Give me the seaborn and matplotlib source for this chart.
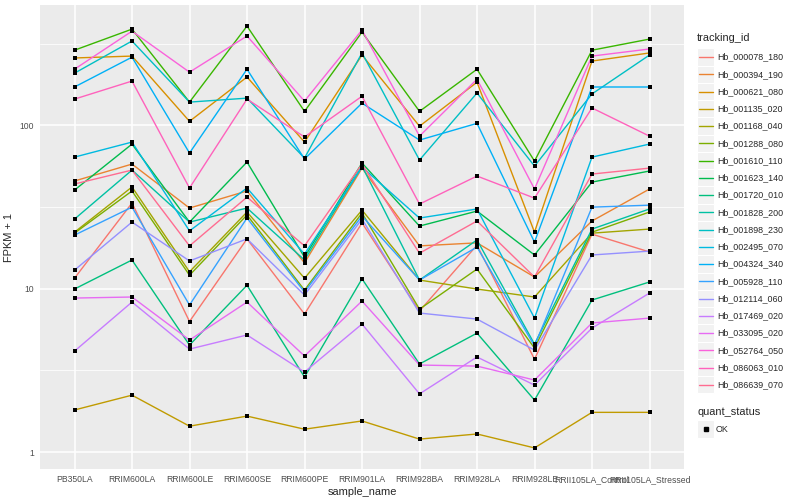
import numpy as np
import pandas as pd
import matplotlib.pyplot as plt
import seaborn as sns
from matplotlib.patches import Rectangle
from matplotlib.lines import Line2D
from matplotlib.ticker import FixedLocator, NullFormatter

samples = ['PB350LA', 'RRIM600LA', 'RRIM600LE', 'RRIM600SE', 'RRIM600PE', 'RRIM901LA',
           'RRIM928BA', 'RRIM928LA', 'RRIM928LE', 'RRII105LA_Control', 'RRII105LA_Stressed']

genes = ['Hb_000078_180', 'Hb_000394_190', 'Hb_000621_080', 'Hb_001135_020', 'Hb_001168_040',
         'Hb_001288_080', 'Hb_001610_110', 'Hb_001623_140', 'Hb_001720_010', 'Hb_001828_200',
         'Hb_001898_230', 'Hb_002495_070', 'Hb_004324_340', 'Hb_005928_110', 'Hb_012114_060',
         'Hb_017469_020', 'Hb_033095_020', 'Hb_052764_050', 'Hb_086063_010', 'Hb_086639_070']

# FPKM + 1, one value per sample (same order as samples)
hb_000078_180 = [11.6, 33.5, 6.3, 20.2, 7.0, 25.3, 7.3, 18.5, 3.7, 21.6, 16.8]
hb_000394_190 = [45.7, 58.0, 31.2, 39.7, 14.4, 54.8, 18.3, 19.1, 11.8, 26.0, 40.8]
hb_000621_080 = [259, 266, 106, 198, 79.1, 270, 99, 184, 22.2, 248, 278]
hb_001135_020 = [1.81, 2.23, 1.44, 1.66, 1.38, 1.55, 1.20, 1.29, 1.06, 1.75, 1.75]
hb_001168_040 = [22.2, 42.0, 12.7, 29.5, 11.6, 30.3, 11.3, 9.96, 8.9, 21.9, 23.2]
hb_001288_080 = [21.9, 39.7, 12.1, 28.3, 9.8, 29.1, 7.5, 13.2, 4.33, 22.2, 29.5]
hb_001610_110 = [289, 389, 139, 406, 122, 373, 122, 221, 60.5, 289, 338]
hb_001623_140 = [40.2, 76.9, 25.6, 59.7, 15.6, 58.9, 24.2, 29.9, 16.1, 45.0, 52.6]
hb_001720_010 = [9.96, 15.0, 4.52, 10.5, 2.88, 11.5, 3.46, 5.35, 2.08, 8.53, 11.0]
hb_001828_200 = [26.7, 53.3, 25.6, 31.2, 15.0, 56.4, 11.3, 19.9, 4.58, 23.2, 30.8]
hb_001898_230 = [209, 329, 139, 147, 63.1, 278, 61.4, 158, 56.4, 156, 270]
hb_002495_070 = [64.0, 79.1, 22.6, 41.4, 16.3, 55.6, 27.1, 30.8, 6.61, 64.0, 76.9]
hb_004324_340 = [172, 262, 67.8, 221, 62.3, 137, 81.4, 103, 19.3, 172, 172]
hb_005928_110 = [21.3, 31.6, 7.95, 27.1, 9.55, 27.9, 11.3, 18.0, 4.46, 31.6, 32.5]
hb_012114_060 = [13.0, 25.6, 14.8, 20.2, 9.15, 26.7, 7.1, 6.52, 4.21, 16.1, 17.0]
hb_017469_020 = [4.15, 8.29, 4.27, 5.21, 3.09, 6.08, 2.27, 3.82, 2.57, 5.74, 9.41]
hb_033095_020 = [8.77, 8.9, 4.85, 8.29, 3.87, 8.41, 3.41, 3.36, 2.76, 6.17, 6.61]
hb_052764_050 = [221, 378, 212, 353, 141, 384, 86, 192, 40.8, 266, 294]
hb_086063_010 = [145, 187, 41.4, 145, 85, 151, 33.0, 49.0, 35.9, 128, 86]
hb_086639_070 = [43.8, 53.3, 18.3, 36.4, 18.3, 58.0, 16.5, 26.0, 11.8, 50.4, 54.8]

series = [hb_000078_180, hb_000394_190, hb_000621_080, hb_001135_020, hb_001168_040,
          hb_001288_080, hb_001610_110, hb_001623_140, hb_001720_010, hb_001828_200,
          hb_001898_230, hb_002495_070, hb_004324_340, hb_005928_110, hb_012114_060,
          hb_017469_020, hb_033095_020, hb_052764_050, hb_086063_010, hb_086639_070]

# ggplot default hue palette for 20 levels
colors = ['#F8766D', '#EA8331', '#D89000', '#C09B00', '#A3A500', '#7CAE00', '#39B600',
          '#00BB4E', '#00BF7D', '#00C1A3', '#00BFC4', '#00BAE0', '#00B0F6', '#35A2FF',
          '#9590FF', '#C77CFF', '#E76BF3', '#FA62DB', '#FF62BC', '#FF6C91']

rows = []
for g, vals in zip(genes, series):
    for i, (s, v) in enumerate(zip(samples, vals)):
        rows.append({'tracking_id': g, 'sample_name': s, 'pos': i, 'fpkm': v, 'quant_status': 'OK'})
df = pd.DataFrame(rows)

sns.set_theme(style='darkgrid', rc={'axes.facecolor': '#EBEBEB', 'grid.color': 'white'})
plt.rcParams['font.family'] = ['Liberation Sans', 'DejaVu Sans']

fig = plt.figure(figsize=(8, 5), dpi=100)
ax = fig.add_axes([40 / 800, 1 - 469 / 500, 644 / 800, 464 / 500])

sns.lineplot(data=df, x='pos', y='fpkm', hue='tracking_id', hue_order=genes, palette=colors,
             estimator=None, sort=False, linewidth=1.0, legend=False, ax=ax)
sns.scatterplot(data=df, x='pos', y='fpkm', color='black', marker='s', s=12, linewidth=0,
                legend=False, ax=ax, zorder=3)

ax.set_yscale('log')
lo, hi = np.log10(df['fpkm'].min()), np.log10(df['fpkm'].max())
pad = (hi - lo) * 0.05
ax.set_ylim(10 ** (lo - pad), 10 ** (hi + pad))
ax.set_xlim(-0.6, len(samples) - 0.4)

ax.yaxis.set_major_locator(FixedLocator([1, 10, 100]))
ax.set_yticklabels(['1', '10', '100'])
ax.yaxis.set_minor_locator(FixedLocator([10 ** 0.5, 10 ** 1.5, 10 ** 2.5]))
ax.yaxis.set_minor_formatter(NullFormatter())
ax.set_xticks(range(len(samples)))
ax.set_xticklabels(samples)
ax.grid(which='major', color='white', linewidth=1.1)
ax.grid(which='minor', axis='y', color='white', linewidth=0.55)
ax.tick_params(axis='both', which='major', length=3, width=0.8, color='#333333',
               labelsize=6.2, labelcolor='#4D4D4D', pad=1.5)
ax.tick_params(axis='y', which='minor', length=0)
for sp in ax.spines.values():
    sp.set_visible(False)

ax.set_xlabel('sample_name', fontsize=7.9, labelpad=2)
ax.set_ylabel('FPKM + 1', fontsize=7.9, labelpad=4)


def fx(px):
    return px / 800


def fy(py):
    return 1 - py / 500


# legend drawn by hand, ggplot style
fig.text(fx(697), fy(38), 'tracking_id', fontsize=7.9, va='center', ha='left')
step = 17.25
for k, (g, c) in enumerate(zip(genes, colors)):
    yc = 57 + k * step
    fig.add_artist(Rectangle((fx(697), fy(yc + step / 2)), 17 / 800, step / 500,
                             transform=fig.transFigure, facecolor='#F2F2F2', edgecolor='white',
                             linewidth=0.8))
    fig.add_artist(Line2D([fx(698.5), fx(712.5)], [fy(yc), fy(yc)], transform=fig.transFigure,
                          color=c, linewidth=1.0))
    fig.text(fx(717), fy(yc), g, fontsize=6.4, va='center', ha='left')

fig.text(fx(697), fy(412), 'quant_status', fontsize=7.9, va='center', ha='left')
fig.add_artist(Rectangle((fx(697), fy(429 + step / 2)), 17 / 800, step / 500,
                         transform=fig.transFigure, facecolor='#F2F2F2', edgecolor='white',
                         linewidth=0.8))
fig.add_artist(Line2D([fx(705.5)], [fy(429)], transform=fig.transFigure, color='black',
                      marker='s', markersize=2.8, linestyle='none'))
fig.text(fx(716), fy(429), 'OK', fontsize=6.4, va='center', ha='left')

fig.savefig('out.png', dpi=100, facecolor='white')
